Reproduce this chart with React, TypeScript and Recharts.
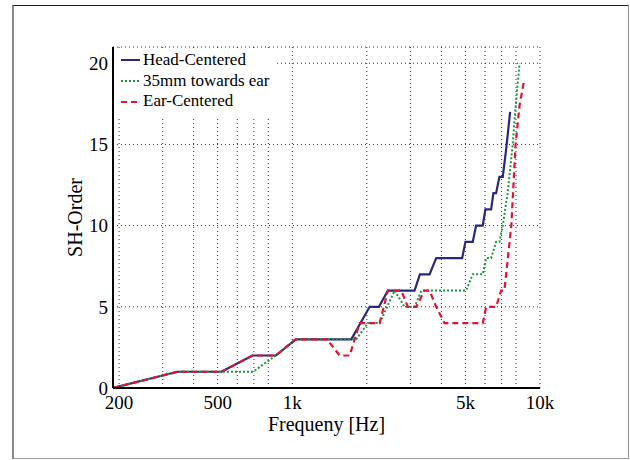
import { LineChart, Line, XAxis, YAxis, CartesianGrid, Legend, Label } from 'recharts';

// frequency [Hz] / SH order pairs per series
const headFreq = [189, 344, 518, 691, 858, 1033, 1731, 2053, 2238, 2433, 3116, 3275, 3582, 3811, 4851, 5000, 5352, 5520, 5871, 6021, 6349, 6486, 6650, 6857, 7075, 7300, 7575];
const headOrder = [0, 1, 1, 2, 2, 3, 3, 5, 5, 6, 6, 7, 7, 8, 8, 9, 9, 10, 10, 11, 11, 12, 12, 13, 13, 14.7, 17];

const towardsFreq = [189, 344, 518, 695, 858, 1033, 1814, 2020, 2253, 2589, 2839, 3116, 3323, 5030, 5352, 5875, 6061, 6349, 6650, 6857, 7075, 7400, 7760, 7970, 8270];
const towardsOrder = [0, 1, 1, 1, 2, 3, 3, 4, 4, 6, 5, 5, 6, 6, 7, 7, 8, 8, 9, 9, 10, 12, 15, 17.3, 20];

const earFreq = [189, 344, 518, 691, 858, 1033, 1382, 1554, 1705, 1871, 2253, 2433, 2754, 2928, 3166, 3419, 3582, 3811, 4116, 5875, 6061, 6650, 6966, 7183, 7660, 7970, 8270, 8640];
const earOrder = [0, 1, 1, 2, 2, 3, 3, 2, 2, 4, 4, 6, 6, 5, 5, 6, 6, 5, 4, 4, 5, 5, 6, 6, 10, 15, 17.4, 19];

const xTicks = [200, 300, 400, 500, 600, 700, 800, 900, 1000, 2000, 3000, 4000, 5000, 6000, 7000, 8000, 9000, 10000];
const xTickLabels: Record<number, string> = { 200: '200', 500: '500', 1000: '1k', 5000: '5k', 10000: '10k' };
const yTicks = [0, 5, 10, 15, 20];

const toRows = (f: number[], v: number[]) => f.map((x, i) => ({ f: x, v: v[i] }));

const series = [
  { name: 'Head-Centered', rows: toRows(headFreq, headOrder), color: '#28287e', dash: undefined, width: 2.2 },
  { name: '35mm towards ear', rows: toRows(towardsFreq, towardsOrder), color: '#1f9440', dash: '2 2', width: 2 },
  { name: 'Ear-Centered', rows: toRows(earFreq, earOrder), color: '#e3122f', dash: '6 4', width: 2.2 },
];

const font = '"Liberation Serif", "Times New Roman", serif';

function LegendBox() {
  return (
    <div style={{ fontFamily: font, fontSize: 17, lineHeight: '20.7px', color: '#000' }}>
      {series.map((s) => (
        <div key={s.name} style={{ display: 'flex', alignItems: 'center', whiteSpace: 'nowrap' }}>
          <svg width={22} height={6} style={{ marginLeft: 6 }}>
            <line x1={0} y1={3} x2={19} y2={3} stroke={s.color} strokeWidth={2} strokeDasharray={s.dash} />
          </svg>
          <span>{s.name}</span>
        </div>
      ))}
    </div>
  );
}

export default function App() {
  return (
    <div style={{ position: 'absolute', left: 0, top: 0, width: 630, height: 460, background: '#fff' }}>
      <div
        style={{
          position: 'absolute',
          left: 12,
          top: 5,
          width: 617,
          height: 454,
          boxSizing: 'border-box',
          borderLeft: '2px solid #8a8a8a',
          borderTop: '1px solid #222',
          borderRight: '1px solid #9a9a9a',
          borderBottom: '1px solid #9a9a9a',
        }}
      />
      <LineChart
        width={630}
        height={460}
        margin={{ top: 47, right: 90, bottom: 22, left: 37 }}
        style={{ fontFamily: font }}
      >
        <CartesianGrid stroke="#333" strokeDasharray="1 3" />
        <XAxis
          dataKey="f"
          type="number"
          scale="log"
          domain={[189, 10000]}
          allowDataOverflow
          ticks={xTicks}
          tickFormatter={(t: number) => xTickLabels[t] ?? ''}
          tickLine={false}
          axisLine={{ stroke: '#000', strokeWidth: 2 }}
          tick={{ fill: '#000', fontSize: 19 }}
          height={50}
        >
          <Label value="Frequeny [Hz]" position="insideBottom" offset={7} style={{ fontSize: 20, fill: '#000' }} />
        </XAxis>
        <YAxis
          type="number"
          domain={[0, 21]}
          ticks={yTicks}
          tickLine={false}
          tickSize={3}
          tickMargin={2}
          axisLine={{ stroke: '#000', strokeWidth: 2 }}
          tick={{ fill: '#000', fontSize: 19 }}
          width={76}
        >
          <Label value="SH-Order" angle={-90} position="center" style={{ fontSize: 20, fill: '#000', textAnchor: 'middle' }} />
        </YAxis>
        {series.map((s) => (
          <Line
            key={s.name}
            name={s.name}
            data={s.rows}
            dataKey="v"
            type="linear"
            stroke={s.color}
            strokeWidth={s.width}
            strokeDasharray={s.dash}
            dot={false}
            activeDot={false}
            isAnimationActive={false}
          />
        ))}
        <Legend
          content={LegendBox}
          layout="horizontal"
          verticalAlign="middle"
          align="center"
          wrapperStyle={{ left: 115, top: 50, width: 161, height: 66, background: '#fff' }}
        />
      </LineChart>
    </div>
  );
}
